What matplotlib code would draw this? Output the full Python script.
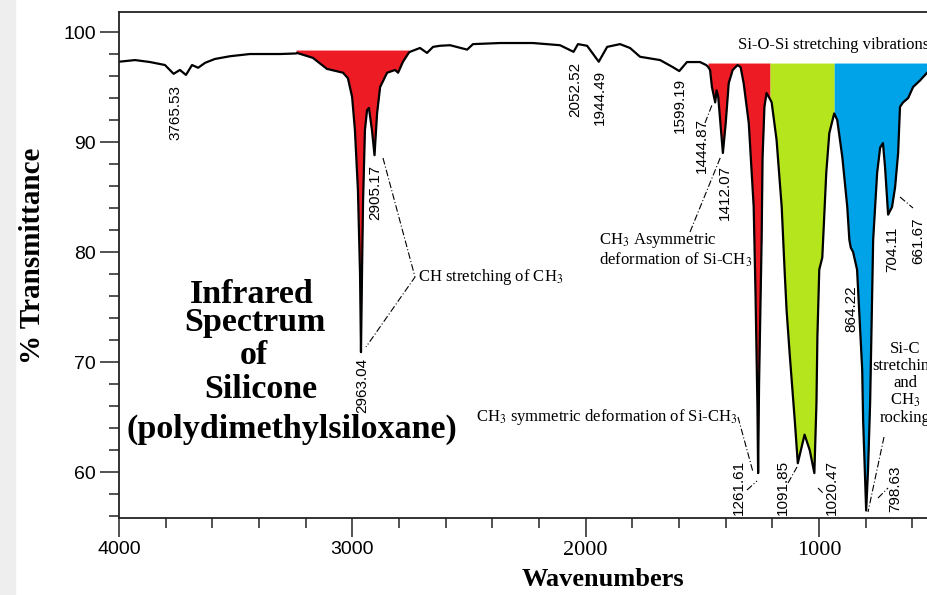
import numpy as np
import matplotlib.pyplot as plt
from matplotlib.lines import Line2D
from matplotlib.patches import Rectangle

plt.rcParams['mathtext.fontset'] = 'stix'

# IR spectrum
wavenumber = [4000, 3931, 3867, 3803, 3766, 3739, 3713, 3687, 3661, 3631,
              3589, 3524, 3439, 3310, 3241, 3237, 3169, 3109, 3040, 3019,
              3001, 2989, 2976, 2967, 2963, 2958, 2954, 2946, 2937, 2929,
              2916, 2905, 2894, 2881, 2851, 2817, 2804, 2783, 2757, 2753,
              2710, 2680, 2654, 2624, 2581, 2508, 2483, 2367, 2226, 2110,
              2052, 2033, 1994, 1944, 1908, 1853, 1810, 1767, 1681, 1626,
              1599, 1566, 1510, 1484, 1476, 1467, 1459, 1445, 1439, 1432,
              1412, 1400, 1387, 1370, 1349, 1336, 1323, 1301, 1280, 1272,
              1264, 1261, 1257, 1251, 1246, 1242, 1234, 1225, 1210, 1203,
              1182, 1160, 1147, 1139, 1126, 1104, 1091, 1062, 1040, 1020,
              1011, 1007, 999, 986, 969, 956, 935, 922, 900, 879,
              870, 864, 854, 837, 815, 811, 798, 790, 781, 773,
              768, 751, 738, 726, 717, 708, 704, 687, 674, 661,
              653, 640, 618, 597, 567, 537, 530]
transmittance = [97.3, 97.45, 97.27, 97.0, 96.2, 96.55, 96.1, 97.0, 96.75, 97.2,
                 97.55, 97.8, 98.0, 98.0, 98.05, 98.1, 97.65, 96.65, 96.3, 95.8,
                 94.1, 91.1, 85.6, 78.0, 70.9, 79.0, 84.7, 91.1, 92.9, 93.1,
                 91.1, 88.8, 92.6, 95.0, 96.3, 96.55, 96.3, 97.3, 98.15, 98.2,
                 98.55, 98.1, 98.65, 98.75, 98.8, 98.4, 98.9, 99.0, 99.0, 98.8,
                 98.2, 98.9, 98.75, 97.3, 98.65, 98.9, 98.55, 97.75, 97.45, 96.8,
                 96.45, 97.27, 97.27, 97.0, 96.85, 96.55, 95.0, 93.6, 94.7, 94.1,
                 89.0, 91.7, 95.35, 96.55, 97.0, 96.8, 95.35, 91.7, 84.1, 76.0,
                 66.0, 59.9, 68.0, 75.4, 81.1, 88.6, 93.2, 94.45, 93.9, 93.6,
                 90.2, 84.1, 78.1, 74.7, 70.8, 64.7, 60.8, 63.4, 62.0, 59.9,
                 66.3, 72.3, 78.4, 79.5, 87.2, 90.8, 92.6, 92.0, 88.6, 84.1,
                 81.1, 80.4, 80.0, 78.4, 69.3, 64.7, 56.5, 60.2, 66.3, 75.4,
                 81.1, 87.2, 89.5, 89.9, 87.7, 84.7, 83.4, 84.1, 85.9, 89.0,
                 93.2, 93.6, 94.0, 95.0, 95.6, 96.3, 96.4]

# coloured band blocks
band_edges = [(3241, 2757), (1476, 1210), (1210, 935), (935, 530)]
band_tops = [98.36, 97.18, 97.18, 97.18]
band_colors = ['#ed1c24', '#ed1c24', '#b5e61d', '#00a2e8']

peak_labels = ['3765.53', '2905.17', '2963.04', '2052.52', '1944.49', '1599.19',
               '1444.87', '1412.07', '1261.61', '1091.85', '1020.47', '864.22',
               '798.63', '704.11', '661.67']
# pixel position (x centre, y top) of each peak label
peak_pos = [(175, 85), (375, 165), (362, 358), (575, 62), (600, 70), (680, 78),
            (702, 118), (725, 165), (739, 460), (783, 460), (832, 460), (851, 285),
            (895, 465), (892, 227), (918, 217)]

W, H = 928, 595


def P(x, y):
    return (x / W, 1 - y / H)


fig = plt.figure(figsize=(W / 100, H / 100), dpi=100)
fig.add_artist(Rectangle((0, 0), 15 / W, 1, transform=fig.transFigure,
                         color='#eeeeee', zorder=0))

ax = fig.add_axes([119 / W, 1 - 518 / H, (928 - 119) / W, (518 - 12) / H])

wn = np.array(wavenumber)
T = np.array(transmittance)
for (hi, lo), top, col in zip(band_edges, band_tops, band_colors):
    sel = (wn <= hi) & (wn >= lo)
    ax.fill_between(wn, np.minimum(T, top), top, where=sel, color=col, lw=0)

ax.plot(wn, T, color='black', lw=1.6)

ax.set_xlim(4000, 533)
ax.set_ylim(55.82, 101.82)
ax.set_xticks([4000, 3000, 2000, 1000])
ax.set_xticks(np.arange(600, 4000, 200), minor=True)
ax.set_yticks([60, 70, 80, 90, 100])
ax.set_yticks(np.arange(56, 101, 2), minor=True)
ax.tick_params(which='major', direction='out', length=13.5, width=1.1,
               color='#222222', labelsize=14, pad=3)
ax.tick_params(which='minor', direction='out', length=7, width=1.1, color='#222222')
ax.spines['right'].set_visible(False)
for s in ['left', 'bottom', 'top']:
    ax.spines[s].set_linewidth(1.3)
    ax.spines[s].set_color('#222222')

for lbl, fam, sz in zip(ax.get_xticklabels(),
                        ['Liberation Sans', 'Liberation Sans', 'Liberation Serif', 'Liberation Serif'],
                        [14, 14, 16, 16]):
    lbl.set_fontfamily(fam)
    lbl.set_fontsize(sz)
for lbl in ax.get_yticklabels():
    lbl.set_fontfamily('Liberation Sans')

# axis titles
fig.text(*P(33, 256), '% Transmittance', rotation=90, ha='center', va='center',
         family='Liberation Serif', weight='bold', fontsize=21)
fig.text(*P(603, 580), 'Wavenumbers', ha='center', va='center',
         family='Liberation Serif', weight='bold', fontsize=19)

# big title block
for txt, x, y in [('Infrared', 252, 303), ('Spectrum', 255, 331), ('of', 254, 364),
                  ('Silicone', 261, 398), ('(polydimethylsiloxane)', 292, 438)]:
    fig.text(*P(x, y), txt, ha='center', va='baseline', family='Liberation Serif',
             weight='bold', fontsize=24.5)

# peak labels
for lab, (x, y) in zip(peak_labels, peak_pos):
    fig.text(*P(x, y), lab, rotation=90, ha='center', va='top',
             family='Liberation Sans', fontsize=11)

# band annotations
serif = dict(family='Liberation Serif', fontsize=12)
fig.text(*P(418, 277), 'CH stretching of CH$_3$', ha='left', va='center', **serif)
fig.text(*P(599, 250), 'CH$_3$ Asymmetric\ndeformation of Si-CH$_3$', ha='left',
         va='center', linespacing=1.05, **serif)
fig.text(*P(476, 417), 'CH$_3$ symmetric deformation of Si-CH$_3$', ha='left',
         va='center', **serif)
fig.text(*P(738, 45), 'Si-O-Si stretching vibrations', ha='left', va='center', **serif)
fig.text(*P(905, 341), 'Si-C\nstretching\nand\nCH$_3$\nrocking', ha='center',
         va='top', linespacing=1.08, **serif)

# leader lines
leaders = [[(383, 158), (415, 277), (366, 347)],
           [(690, 232), (721, 156)],
           [(705, 123), (712, 105)],
           [(738, 417), (753, 472)],
           [(747, 490), (757, 481)],
           [(788, 483), (797, 467)],
           [(818, 488), (823, 493)],
           [(884, 437), (868, 512)],
           [(878, 498), (888, 488)],
           [(900, 197), (913, 208)]]
for pts in leaders:
    xs = [P(x, y)[0] for x, y in pts]
    ys = [P(x, y)[1] for x, y in pts]
    fig.add_artist(Line2D(xs, ys, transform=fig.transFigure, color='black',
                          lw=0.8, linestyle=(0, (6, 2, 1, 2))))

fig.savefig('out.png', dpi=100)
